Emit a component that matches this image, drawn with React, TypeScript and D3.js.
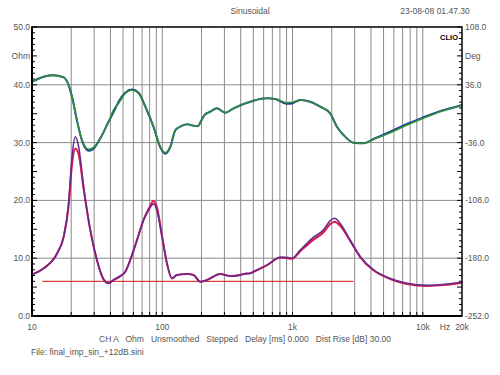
import React from 'react';
import * as d3 from 'd3';

// impedance (Ohm), two measurements
const impFreq = [10, 12.3, 15.6, 17.5, 19.1, 20.3, 21.5, 22.8, 24.9, 28, 31.5, 35.4, 38.7, 42.3, 47.6, 52, 56.8, 63.9, 71.8, 78.5, 85.7, 91, 99.5, 108.7, 118.6, 129.6, 154.8, 173.9, 195.7, 220.4, 278.5, 332.5, 396.9, 420.6, 473.6, 502, 636.5, 805, 906, 989, 1146, 1409, 1730, 1946, 2100, 2323, 2772, 3311, 4188, 5623, 7551, 10740, 15310, 20000];
const impPurple = [7.2, 8.25, 10.85, 13.7, 19.5, 27.6, 31.0, 29.3, 22.4, 14.9, 9.7, 6.35, 5.66, 6.23, 6.9, 7.66, 9.7, 13.1, 16.6, 18.3, 19.4, 18.3, 13.7, 9.1, 6.5, 7.1, 7.27, 7.1, 5.93, 6.23, 7.27, 6.9, 7.1, 7.27, 7.4, 7.66, 8.8, 10.15, 10.15, 9.98, 11.4, 13.4, 14.9, 16.5, 16.9, 16.0, 13.1, 10.26, 7.96, 6.5, 5.66, 5.3, 5.54, 5.85];
const impRed = [7.2, 8.25, 10.85, 13.7, 19.0, 26.3, 29.0, 28.0, 22.0, 14.9, 9.7, 6.35, 5.66, 6.23, 6.9, 7.66, 9.7, 13.1, 16.6, 18.5, 19.9, 18.8, 13.9, 9.1, 6.5, 7.1, 7.27, 7.1, 5.93, 6.23, 7.27, 6.9, 7.1, 7.27, 7.4, 7.66, 8.8, 10.1, 10.0, 9.9, 11.2, 13.0, 14.5, 15.9, 16.3, 15.6, 13.0, 10.2, 7.9, 6.4, 5.55, 5.2, 5.4, 5.75];

// phase (Deg), two measurements
const phaseFreq = [10, 12.3, 14.6, 17.5, 19.1, 20.3, 22.1, 24.2, 27.2, 29.7, 33.4, 38.7, 42.3, 46.2, 52, 58.5, 65.8, 74.1, 85.7, 96.6, 105.4, 115, 126, 137, 155, 174, 188, 196, 210, 234, 263, 304, 353, 421, 474, 502, 637, 737, 906, 989, 1146, 1367, 1632, 1946, 2191, 2461, 2940, 3508, 4188, 5623, 7551, 10100, 13600, 18300, 20000];
const phaseGreen = [39.9, 46.1, 47.8, 45.3, 35.7, 21.2, -7.9, -32.8, -44.4, -41.9, -30.6, -10, 4.6, 13, 25.4, 29.5, 25.4, 8.7, -16.2, -41.1, -48.6, -41.1, -20.3, -16.2, -13.2, -15, -15.5, -11, -2, 2.5, 6.7, 1.2, 6.7, 12.1, 14.9, 16.2, 19.2, 18.3, 13.7, 14.2, 17.1, 14.9, 8.7, 0.5, -16.2, -26.5, -36.1, -36.9, -31.9, -23.7, -14.1, -5.7, 2.5, 8.7, 10.8];
const phaseBlue = [39.9, 46.1, 47.8, 45.3, 35.7, 21.2, -7.9, -33.5, -46, -43.5, -31, -10, 2, 15, 26, 30, 26, 9, -16.5, -42, -50, -42, -20.5, -16.2, -13.2, -15, -15.5, -11, -2, 2.5, 6.7, 1.2, 6.7, 12.1, 14.9, 16.2, 19.2, 18.3, 12.5, 12.8, 17.1, 14.9, 8.7, 0.5, -16.2, -26.5, -36.1, -36.9, -31.5, -22.5, -12.8, -4.5, 3.2, 9, 10.8];

// reference line
const refFreq = [12, 2940];
const refOhm = [6, 6];

const ohmTicks = [0, 10, 20, 30, 40, 50];
const degTicks = [-252, -180, -108, -36, 36, 108];
const freqLabels = [[10, '10'], [100, '100'], [1000, '1k'], [10000, '10k'], [20000, '20k']];

const L = 32, R = 462, T = 27, B = 316;

export default function App() {
  const x = d3.scaleLog().domain([10, 20000]).range([L, R]);
  const yO = d3.scaleLinear().domain([0, 50]).range([B, T]);
  const yD = d3.scaleLinear().domain([-252, 108]).range([B, T]);

  const lineO = (fs, vs) => d3.line().curve(d3.curveMonotoneX)(fs.map((f, i) => [x(f), yO(vs[i])]));
  const lineD = (fs, vs) => d3.line().curve(d3.curveMonotoneX)(fs.map((f, i) => [x(f), yD(vs[i])]));

  const gridF = [];
  [10, 100, 1000, 10000].forEach(d => {
    for (let k = 1; k <= 9; k++) {
      const f = d * k;
      if (f > 10 && f < 20000) gridF.push(f);
    }
  });

  const minor = d3.range(0, 51);
  const txt = { fontFamily: 'Liberation Sans, Arial, sans-serif', fontSize: 8.5, fill: '#555' };

  return (
    <svg width={500} height={375} style={{ position: 'absolute', left: 0, top: 0, background: '#fff' }}>
      <text x={250} y={14} textAnchor="middle" {...txt}>Sinusoidal</text>
      <text x={435} y={14} textAnchor="middle" {...txt}>23-08-08 01.47.30</text>

      <g stroke="#8c8c8c" strokeWidth={1}>
        {gridF.map(f => <line key={f} x1={x(f)} x2={x(f)} y1={T} y2={B} />)}
        {ohmTicks.slice(1, -1).map(v => <line key={v} x1={L} x2={R} y1={yO(v)} y2={yO(v)} />)}
      </g>

      <g stroke="#000" strokeWidth={1}>
        {minor.map(v => <line key={'l' + v} x1={L} x2={L + (v % 5 === 0 ? 5 : 3)} y1={yO(v)} y2={yO(v)} />)}
        {minor.map(v => <line key={'r' + v} x1={R} x2={R - (v % 5 === 0 ? 5 : 3)} y1={yO(v)} y2={yO(v)} />)}
        {gridF.map(f => <line key={'b' + f} x1={x(f)} x2={x(f)} y1={B} y2={B - 4} />)}
      </g>

      <path d={lineO(refFreq, refOhm)} fill="none" stroke="#d01010" strokeWidth={1} />
      <path d={lineO(impFreq, impRed)} fill="none" stroke="#e0164e" strokeWidth={2} />
      <path d={lineO(impFreq, impPurple)} fill="none" stroke="#6a2a8c" strokeWidth={1.6} />
      <path d={lineD(phaseFreq, phaseBlue)} fill="none" stroke="#1c3c9c" strokeWidth={2} />
      <path d={lineD(phaseFreq, phaseGreen)} fill="none" stroke="#2f9038" strokeWidth={1.6} />

      <rect x={L} y={T} width={R - L} height={B - T} fill="none" stroke="#000" strokeWidth={1.5} />
      <line x1={L} x2={L} y1={T} y2={B + 1} stroke="#000" strokeWidth={2} />
      <line x1={L - 1} x2={R} y1={B} y2={B} stroke="#000" strokeWidth={2} />

      <text x={458} y={40} textAnchor="end" fontFamily="Liberation Sans, Arial, sans-serif" fontWeight="bold" fontSize={7.5} fill="#000">CLIO</text>

      {ohmTicks.map(v => <text key={v} x={30} y={yO(v) + 3} textAnchor="end" {...txt}>{v.toFixed(1)}</text>)}
      <text x={30} y={yO(45) + 3} textAnchor="end" {...txt}>Ohm</text>
      {degTicks.map(v => <text key={v} x={465} y={yD(v) + 3} {...txt}>{v.toFixed(1)}</text>)}
      <text x={465} y={yO(45) + 3} {...txt}>Deg</text>

      {freqLabels.map(([f, s]) => <text key={s} x={x(f)} y={330} textAnchor="middle" {...txt}>{s}</text>)}
      <text x={445} y={330} textAnchor="middle" {...txt}>Hz</text>

      <text x={245} y={342} textAnchor="middle" style={{ whiteSpace: 'pre' }} {...txt}>CH A   Ohm   Unsmoothed   Stepped   Delay [ms] 0.000   Dist Rise [dB] 30.00</text>
      <text x={31} y={355} {...txt}>File: final_imp_sin_+12dB.sini</text>
    </svg>
  );
}
